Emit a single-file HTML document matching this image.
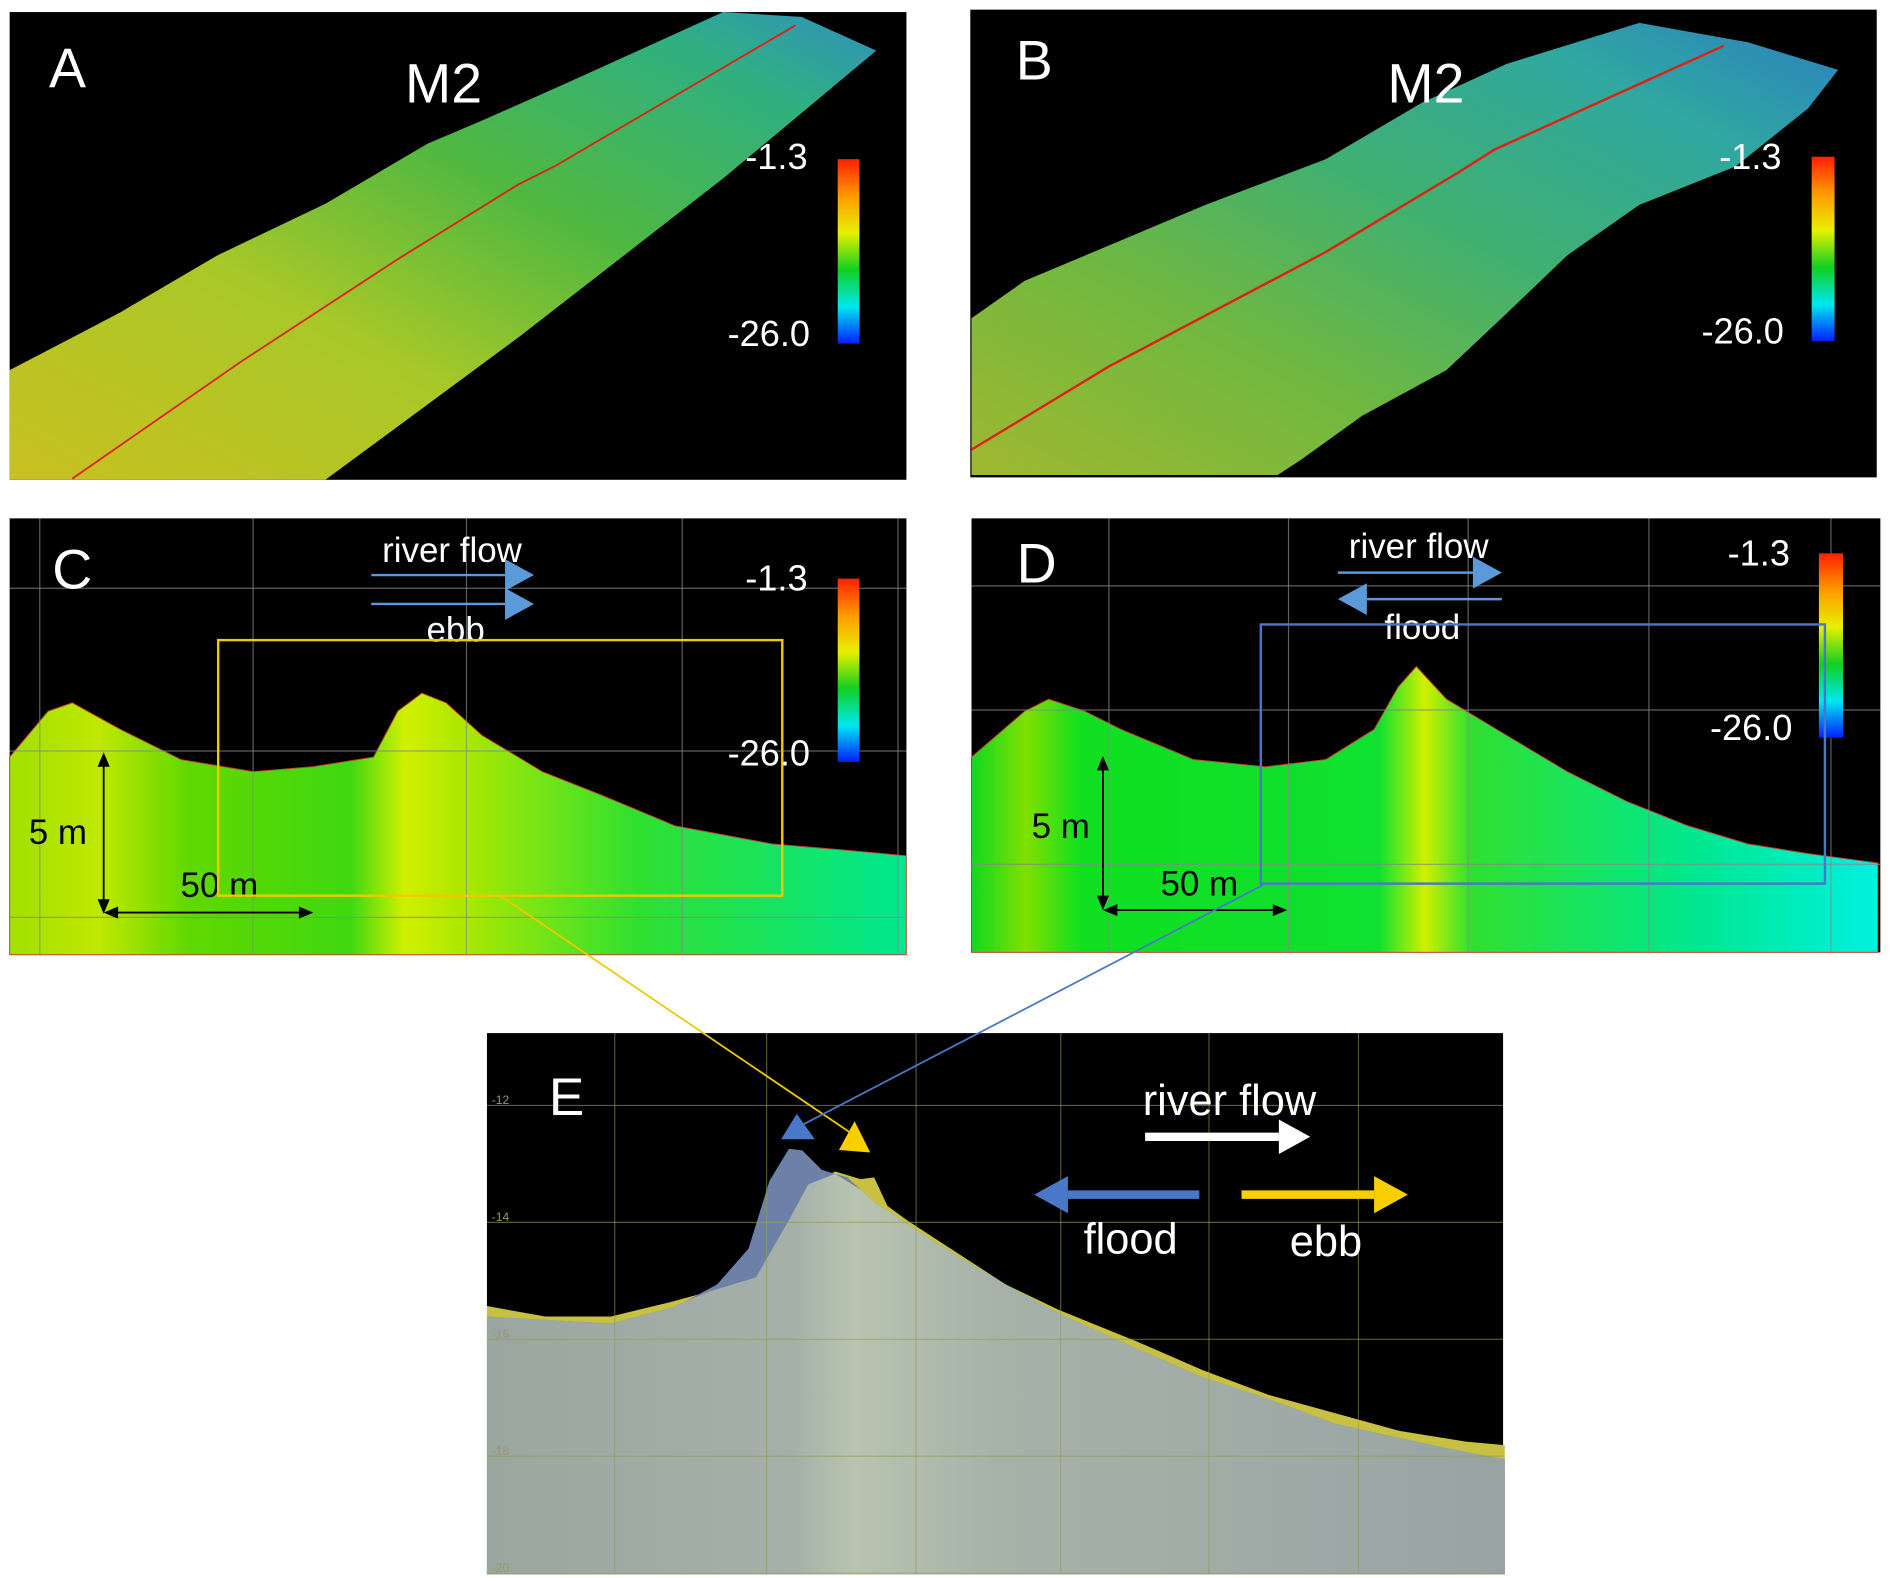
<!DOCTYPE html>
<html><head><meta charset="utf-8">
<style>
html,body{margin:0;padding:0;background:#fff;}
svg{display:block;font-family:"Liberation Sans",Arial,sans-serif;}
</style></head>
<body>
<svg id="fig" width="1890" height="1578" viewBox="0 0 1568 1309" preserveAspectRatio="none" xmlns="http://www.w3.org/2000/svg">
<defs>
<linearGradient id="cbar" x1="0" y1="0" x2="0" y2="1">
<stop offset="0" stop-color="#ff2000"/><stop offset="0.2" stop-color="#ff9a00"/><stop offset="0.4" stop-color="#e8f000"/><stop offset="0.6" stop-color="#10d020"/><stop offset="0.8" stop-color="#00e8f0"/><stop offset="1" stop-color="#0020ff"/>
</linearGradient>
<linearGradient id="swA" x1="0" y1="1" x2="1" y2="0">
<stop offset="0" stop-color="#c8c020"/><stop offset="0.35" stop-color="#a8c828"/><stop offset="0.6" stop-color="#50b840"/><stop offset="0.85" stop-color="#30b080"/><stop offset="1" stop-color="#3090c0"/>
</linearGradient>
<linearGradient id="swB" x1="0" y1="1" x2="1" y2="0">
<stop offset="0" stop-color="#a0b830"/><stop offset="0.3" stop-color="#70b840"/><stop offset="0.55" stop-color="#40b070"/><stop offset="0.8" stop-color="#30a8a0"/><stop offset="1" stop-color="#2a80c0"/>
</linearGradient>
<linearGradient id="profC" x1="0" y1="0" x2="1" y2="0">
<stop offset="0" stop-color="#a0e000"/><stop offset="0.1" stop-color="#c0e800"/><stop offset="0.2" stop-color="#60d800"/><stop offset="0.38" stop-color="#40d810"/><stop offset="0.44" stop-color="#d0f000"/><stop offset="0.5" stop-color="#b0e800"/><stop offset="0.7" stop-color="#30e030"/><stop offset="1" stop-color="#00e890"/>
</linearGradient>
<linearGradient id="profD" x1="0" y1="0" x2="1" y2="0">
<stop offset="0" stop-color="#10d820"/><stop offset="0.06" stop-color="#80e000"/><stop offset="0.12" stop-color="#10e020"/><stop offset="0.45" stop-color="#10e030"/><stop offset="0.5" stop-color="#d0f000"/><stop offset="0.55" stop-color="#30e030"/><stop offset="0.8" stop-color="#00e890"/><stop offset="1" stop-color="#00f0e0"/>
</linearGradient>
<linearGradient id="profE" x1="0" y1="0" x2="1" y2="0">
<stop offset="0" stop-color="#9aa6a0"/><stop offset="0.3" stop-color="#a4b0a8"/><stop offset="0.36" stop-color="#b8c4b0"/><stop offset="0.5" stop-color="#a6b2a8"/><stop offset="1" stop-color="#98a4a4"/>
</linearGradient>
</defs>

<g>
<rect x="8" y="10" width="744" height="388" fill="#000"/>
<polygon points="8,307 60,280 100,259 180,212 270,169 355,119 400,100 470,69 600,10 665,14 727,42 600,148 430,280 270,398 8,398" fill="url(#swA)"/>
<polyline points="60,397 200,300 330,215 430,153 460,138 660,21" fill="none" stroke="#e02010" stroke-width="1.5"/>
<text x="56" y="72" font-size="46" fill="#fff" text-anchor="middle">A</text>
<text x="368" y="85" font-size="46" fill="#fff" text-anchor="middle">M2</text>
<rect x="695" y="132" width="18" height="153" fill="url(#cbar)"/>
<text x="670" y="140" font-size="30" fill="#fff" text-anchor="end">-1.3</text>
<text x="672" y="287" font-size="30" fill="#fff" text-anchor="end">-26.0</text>
</g>

<g>
<rect x="805" y="8" width="752" height="388" fill="#000"/>
<polygon points="806,264 850,233 900,212 1000,170 1100,132 1180,85 1250,53 1360,19 1450,35 1525,58 1500,90 1440,138 1360,170 1300,212 1250,260 1200,307 1130,345 1080,381 1060,394 806,394" fill="url(#swB)"/>
<polyline points="806,373 920,304 1100,209 1210,143 1240,124 1430,38" fill="none" stroke="#e02010" stroke-width="2"/>
<text x="858" y="66" font-size="46" fill="#fff" text-anchor="middle">B</text>
<text x="1183" y="85" font-size="46" fill="#fff" text-anchor="middle">M2</text>
<rect x="1503" y="130" width="19" height="153" fill="url(#cbar)"/>
<text x="1478" y="140" font-size="30" fill="#fff" text-anchor="end">-1.3</text>
<text x="1480" y="285" font-size="30" fill="#fff" text-anchor="end">-26.0</text>
</g>

<g id="pc">
<rect x="8" y="430" width="744" height="362" fill="#000"/>
</g>
<g id="pd">
<rect x="806" y="430" width="754" height="360" fill="#000"/>
</g>
<g id="pe">
<rect x="404" y="857" width="843" height="449" fill="#000"/>
</g>
<g id="overlay"></g>
</svg>

<script>
const cDist = [0, 9.4, 15.3, 27, 41.8, 59.4, 74, 88.8, 94.7, 100.6, 106.5, 115.3, 130, 144.7, 162.4, 185.9, 203.5, 218.8];
const cElev = [4.96, 6.45, 6.72, 5.86, 4.88, 4.49, 4.65, 4.96, 6.45, 7.03, 6.72, 5.66, 4.49, 3.71, 2.73, 2.15, 1.95, 1.76];
const dDist = [0, 14.6, 21.2, 31.1, 41.1, 60.9, 80.8, 97.4, 110.6, 117.2, 122.2, 130.5, 147, 163.6, 180.1, 196.7, 213.2, 229.8, 249];
const dElev = [5.08, 6.64, 7.05, 6.64, 6.02, 5.0, 4.75, 5.0, 6.02, 7.46, 8.16, 7.05, 5.82, 4.59, 3.57, 2.75, 2.13, 1.80, 1.48];
const eDistFlood = [0, 8.3, 12.7, 15.4, 17.5, 18.9, 20.2, 21.1, 22.4, 24.1, 25.9, 28.1, 30.3, 34.7, 38.2, 43.5, 47.9, 52.3, 56.7, 61.1, 65.5, 68.1];
const eFlood = [-15.61, -15.73, -15.43, -15.06, -14.45, -13.29, -12.74, -12.77, -13.10, -13.23, -13.65, -14.02, -14.39, -15.06, -15.55, -16.16, -16.65, -17.02, -17.44, -17.69, -17.93, -18.05];
const eDistEbb = [0, 3.9, 8.3, 12.3, 14.9, 18.0, 20.2, 21.5, 23.3, 25.0, 25.9, 26.8, 28.1, 30.3, 34.7, 38.2, 43.5, 47.9, 52.3, 56.7, 61.1, 65.5, 68.1];
const eEbb = [-15.43, -15.61, -15.61, -15.36, -15.18, -14.94, -13.96, -13.35, -13.13, -13.26, -13.23, -13.72, -13.96, -14.33, -15.06, -15.49, -16.04, -16.53, -16.95, -17.26, -17.57, -17.75, -17.81];
const eTicks = [-12, -14, -16, -18, -20];

const NS = "http://www.w3.org/2000/svg";
function mk(tag, attrs, parent) {
  const el = document.createElementNS(NS, tag);
  for (const k in attrs) el.setAttribute(k, attrs[k]);
  parent.appendChild(el);
  return el;
}
function areaPath(xs, ys, xf, yf, bottom) {
  let d = "M" + xf(xs[0]) + "," + bottom;
  for (let i = 0; i < xs.length; i++) d += " L" + xf(xs[i]).toFixed(1) + "," + yf(ys[i]).toFixed(1);
  d += " L" + xf(xs[xs.length - 1]) + "," + bottom + " Z";
  return d;
}
function lineTxt(g, x, y, s, txt, anchor, fill, name) {
  const t = mk("text", {x: x, y: y, "font-size": s, fill: fill || "#fff", "text-anchor": anchor || "middle"}, g);
  
  
  t.textContent = txt;
  return t;
}
function arrow(g, x1, y, x2, col, w, head, name) {
  const dir = Math.sign(x2 - x1);
  const ln = mk("line", {x1: x1, y1: y, x2: x2 - dir * head, y2: y, stroke: col, "stroke-width": w}, g);
  
  
  const p = mk("polygon", {points: (x2 - dir * head) + "," + (y - head * 0.55) + " " + x2 + "," + y + " " + (x2 - dir * head) + "," + (y + head * 0.55), fill: col}, g);
  
  
}

(function () {
  const g = document.getElementById("pc");
  const xC = d => 8 + d * 3.4;
  const yC = e => 755 - e * 25.6;
  const a = mk("path", {d: areaPath(cDist, cElev, xC, yC, 792), fill: "url(#profC)", stroke: "#c04030", "stroke-width": 0.8}, g);
  
  
  [33, 210, 387, 566, 745].forEach(x => { const l = mk("line", {x1: x, y1: 430, x2: x, y2: 792, stroke: "#888", "stroke-width": 1, opacity: 0.7}, g);   });
  [488, 623, 761].forEach(y => { const l = mk("line", {x1: 8, y1: y, x2: 752, y2: y, stroke: "#888", "stroke-width": 1, opacity: 0.7}, g);   });
  lineTxt(g, 60, 488, 46, "C", "middle", "#fff", "panel-label-c");
  lineTxt(g, 375, 466, 29, "river flow", "middle", "#fff", "river-flow-label-c");
  arrow(g, 308, 477, 443, "#5a9ad8", 2, 24, "river-flow-arrow-c");
  arrow(g, 308, 501, 443, "#5a9ad8", 2, 24, "ebb-arrow-c");
  lineTxt(g, 378, 532, 29, "ebb", "middle", "#fff", "ebb-label-c");
  const cb = mk("rect", {x: 695, y: 480, width: 18, height: 152, fill: "url(#cbar)"}, g);
   
  lineTxt(g, 670, 490, 30, "-1.3", "end", "#fff", "colorbar-max-c");
  lineTxt(g, 672, 635, 30, "-26.0", "end", "#fff", "colorbar-min-c");
  const v = mk("line", {x1: 86, y1: 627, x2: 86, y2: 755, stroke: "#000", "stroke-width": 1.5}, g);
   
  const h = mk("line", {x1: 88, y1: 757, x2: 258, y2: 757, stroke: "#000", "stroke-width": 1.5}, g);
   
  mk("polygon", {points: "86,624 81,636 91,636", fill: "#000"}, g);
  mk("polygon", {points: "86,758 81,746 91,746", fill: "#000"}, g);
  mk("polygon", {points: "86,757 98,752 98,762", fill: "#000"}, g);
  mk("polygon", {points: "260,757 248,752 248,762", fill: "#000"}, g);
  lineTxt(g, 48, 700, 29, "5 m", "middle", "#000", "scale-label-5m-c");
  lineTxt(g, 182, 744, 29, "50 m", "middle", "#000", "scale-label-50m-c");
  const box = mk("rect", {x: 181, y: 531, width: 468, height: 212, fill: "none", stroke: "#f0c800", "stroke-width": 2}, g);
   
})();

(function () {
  const g = document.getElementById("pd");
  const xD = d => 806 + d * 3.02;
  const yD = e => 752 - e * 24.4;
  const a = mk("path", {d: areaPath(dDist, dElev, xD, yD, 790), fill: "url(#profD)", stroke: "#c04030", "stroke-width": 0.8}, g);
  
  
  [920, 1069, 1218, 1368, 1519].forEach(x => { const l = mk("line", {x1: x, y1: 430, x2: x, y2: 790, stroke: "#888", "stroke-width": 1, opacity: 0.7}, g);   });
  [486, 589, 717].forEach(y => { const l = mk("line", {x1: 806, y1: y, x2: 1560, y2: y, stroke: "#888", "stroke-width": 1, opacity: 0.7}, g);   });
  lineTxt(g, 860, 483, 46, "D", "middle", "#fff", "panel-label-d");
  lineTxt(g, 1177, 463, 29, "river flow", "middle", "#fff", "river-flow-label-d");
  arrow(g, 1110, 475, 1246, "#5a9ad8", 2, 24, "river-flow-arrow-d");
  arrow(g, 1246, 497, 1110, "#5a9ad8", 2, 24, "flood-arrow-d");
  lineTxt(g, 1180, 530, 29, "flood", "middle", "#fff", "flood-label-d");
  const cb = mk("rect", {x: 1509, y: 459, width: 20, height: 153, fill: "url(#cbar)"}, g);
   
  lineTxt(g, 1485, 469, 30, "-1.3", "end", "#fff", "colorbar-max-d");
  lineTxt(g, 1487, 614, 30, "-26.0", "end", "#fff", "colorbar-min-d");
  const v = mk("line", {x1: 915, y1: 630, x2: 915, y2: 752, stroke: "#000", "stroke-width": 1.5}, g);
   
  const h = mk("line", {x1: 917, y1: 755, x2: 1066, y2: 755, stroke: "#000", "stroke-width": 1.5}, g);
   
  mk("polygon", {points: "915,627 910,639 920,639", fill: "#000"}, g);
  mk("polygon", {points: "915,755 910,743 920,743", fill: "#000"}, g);
  mk("polygon", {points: "915,755 927,750 927,760", fill: "#000"}, g);
  mk("polygon", {points: "1068,755 1056,750 1056,760", fill: "#000"}, g);
  lineTxt(g, 880, 695, 29, "5 m", "middle", "#000", "scale-label-5m-d");
  lineTxt(g, 995, 743, 29, "50 m", "middle", "#000", "scale-label-50m-d");
  const box = mk("rect", {x: 1046, y: 518, width: 468, height: 215, fill: "none", stroke: "#4a78c8", "stroke-width": 2}, g);
   
})();

(function () {
  const g = document.getElementById("pe");
  const xE = d => 404 + d * 12.4;
  const yE = e => 917 + (-12 - e) * 48.5;
  const ebb = mk("path", {d: areaPath(eDistEbb, eEbb, xE, yE, 1306), fill: "#c8c040"}, g);
  
  
  const fl = mk("path", {d: areaPath(eDistFlood, eFlood, xE, yE, 1306), fill: "#6c80a8"}, g);
  
  
  const ys = eDistEbb.map((d, i) => {
    let j = 0;
    while (j < eDistFlood.length - 2 && eDistFlood[j + 1] < d) j++;
    const t = Math.max(0, Math.min(1, (d - eDistFlood[j]) / (eDistFlood[j + 1] - eDistFlood[j])));
    const f = eFlood[j] + t * (eFlood[j + 1] - eFlood[j]);
    return Math.min(f, eEbb[i]);
  });
  const ov = mk("path", {d: areaPath(eDistEbb, ys, xE, yE, 1306), fill: "url(#profE)"}, g);
  
  
  [510, 636, 760, 880, 1003, 1127].forEach(x => { const l = mk("line", {x1: x, y1: 857, x2: x, y2: 1306, stroke: "#9a9a50", "stroke-width": 1, opacity: 0.55}, g);   });
  eTicks.forEach(t => {
    const y = yE(t);
    const l = mk("line", {x1: 404, y1: y, x2: 1247, y2: y, stroke: "#9a9a50", "stroke-width": 1, opacity: 0.6}, g);
     
    lineTxt(g, 408, y - 1, 10, String(t), "start", "#9a9a60", "y-tick-label");
  });
  lineTxt(g, 470, 925, 44, "E", "middle", "#fff", "panel-label-e");
  lineTxt(g, 1020, 925, 36, "river flow", "middle", "#fff", "river-flow-label-e");
  arrow(g, 950, 943, 1087, "#fff", 7, 26, "river-flow-arrow-e");
  arrow(g, 995, 991, 858, "#4a78c8", 7, 28, "flood-arrow-e");
  arrow(g, 1030, 991, 1168, "#f8d000", 7, 28, "ebb-arrow-e");
  lineTxt(g, 938, 1040, 36, "flood", "middle", "#fff", "flood-label-e");
  lineTxt(g, 1100, 1042, 36, "ebb", "middle", "#fff", "ebb-label-e");
  const bt = mk("polygon", {points: "661,924 648,945 676,945", fill: "#4a78c8"}, g);
   
  const yt = mk("polygon", {points: "709,930 696,954 722,956", fill: "#f8d000"}, g);
   
})();

(function () {
  const g = document.getElementById("overlay");
  const l1 = mk("line", {x1: 415, y1: 743, x2: 712, y2: 944, stroke: "#f0c800", "stroke-width": 1.5}, g);
   
  const l2 = mk("line", {x1: 1050, y1: 733, x2: 664, y2: 934, stroke: "#4a78c8", "stroke-width": 1.5}, g);
   
})();
</script>
</body></html>
